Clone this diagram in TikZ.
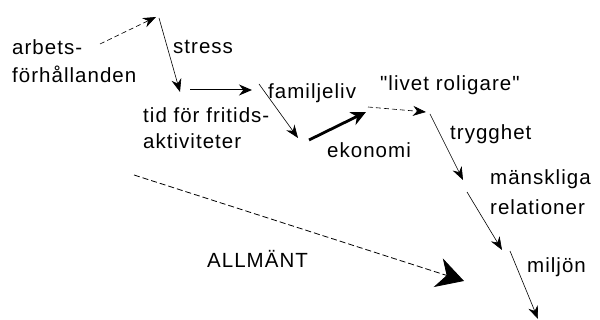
\documentclass[tikz,border=0pt]{standalone}
\usepackage{fontspec}
\newfontfamily\lbfont[LetterSpace=5]{Liberation Sans}
\usetikzlibrary{arrows.meta}
\tikzset{
  lbl/.style={anchor=base west, inner sep=0pt, font=\lbfont\fontsize{20.5}{20.5}\selectfont},
  thinarr/.style={line width=0.6pt, -{Stealth[length=13pt,width=10pt]}},
  dasharr/.style={line width=0.6pt, dash pattern=on 5pt off 3pt, -{Stealth[length=13pt,width=10pt]}},
  solidarr/.style={line width=1pt, -{Stealth[length=13pt,width=11pt]}},
  thickarr/.style={line width=2.8pt, -{Stealth[length=15pt,width=14pt]}},
  bigarr/.style={line width=0.8pt, dash pattern=on 6pt off 3pt, -{Stealth[length=27pt,width=30pt]}}
}
\begin{document}
\begin{tikzpicture}[x=1pt,y=-1pt]
\useasboundingbox (0,0) rectangle (600,320);
% labels
\node[lbl] (arbets) at (12,55) {arbets-};
\node[lbl] (forh) at (12,83) {förhållanden};
\node[lbl] (stress) at (173,54) {stress};
\node[lbl] (tid) at (143,123) {tid för fritids-};
\node[lbl] (akt) at (143,149) {aktiviteter};
\node[lbl] (fam) at (268,99) {familjeliv};
\node[lbl] (livet) at (380,91) {"livet roligare"};
\node[lbl] (ekon) at (327,158) {ekonomi};
\node[lbl] (tryg) at (450,140) {trygghet};
\node[lbl] (mansk) at (490,185) {mänskliga};
\node[lbl] (rel) at (490,215) {relationer};
\node[lbl] (milj) at (527,273) {miljön};
\node[lbl] (allm) at (207,268) {ALLMÄNT};
% arrow points
\coordinate (a1) at (100,44);
\coordinate (a2) at (156,17);
\coordinate (b1) at (159,18);
\coordinate (b2) at (180,92);
\coordinate (c1) at (190,90);
\coordinate (c2) at (252,90);
\coordinate (d1) at (259,84);
\coordinate (d2) at (298,138);
\coordinate (e1) at (309,140);
\coordinate (e2) at (366,112);
\coordinate (f1) at (368,107);
\coordinate (f2) at (426,112);
\coordinate (g1) at (430,114);
\coordinate (g2) at (463,180);
\coordinate (h1) at (467,192);
\coordinate (h2) at (502,250);
\coordinate (i1) at (510,251);
\coordinate (i2) at (538,319);
\coordinate (j1) at (134,175);
\coordinate (j2) at (464,281);
% arrows
\draw[dasharr] (a1) -- (a2);
\draw[thinarr] (b1) -- (b2);
\draw[solidarr] (c1) -- (c2);
\draw[thinarr] (d1) -- (d2);
\draw[thickarr] (e1) -- (e2);
\draw[dasharr] (f1) -- (f2);
\draw[thinarr] (g1) -- (g2);
\draw[thinarr] (h1) -- (h2);
\draw[thinarr] (i1) -- (i2);
\draw[bigarr] (j1) -- (j2);
\end{tikzpicture}
\end{document}
